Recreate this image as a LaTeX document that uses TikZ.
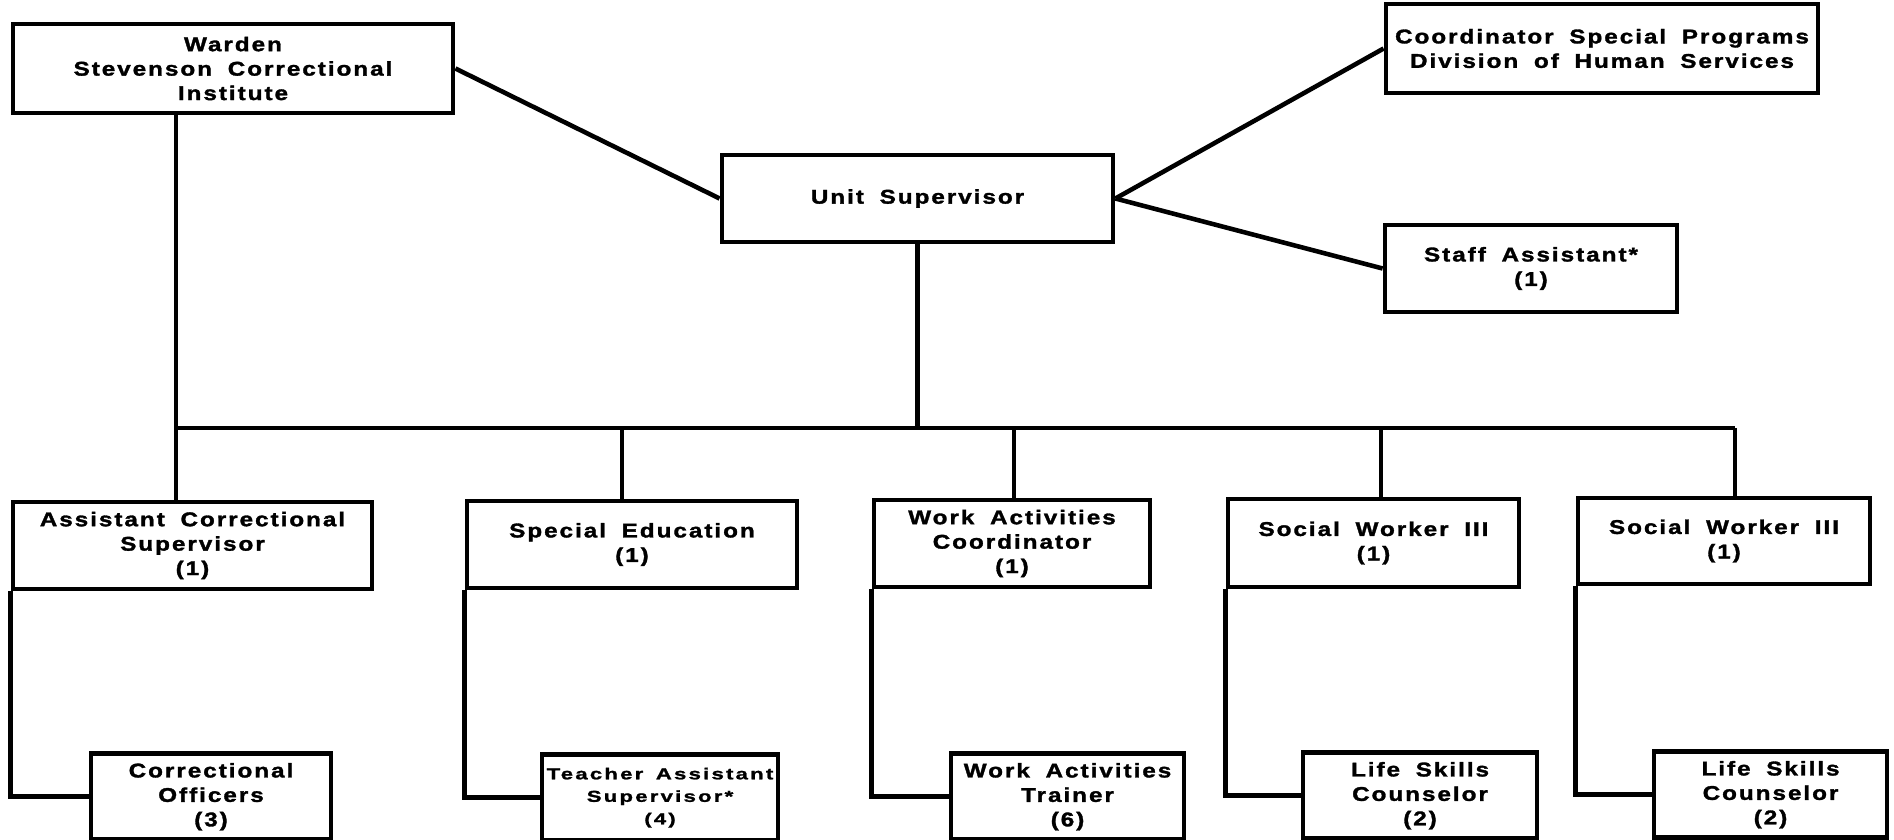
\documentclass[tikz,border=0pt]{standalone}
\usepackage{fontspec}
\usepackage{tikz}
\usetikzlibrary{positioning}
\newfontfamily\orgfont{Liberation Sans}[FakeStretch=1.22, LetterSpace=10, WordSpace=1.8, FakeBold=1.6]
\newfontfamily\orgfontwide{Liberation Sans}[FakeStretch=1.4, LetterSpace=14, WordSpace=1.5, FakeBold=1.4]

\begin{document}
\begin{tikzpicture}[
  x=0.01cm, y=0.01cm,
  line width=1.3pt,
  post/.style={rectangle, draw, align=center, inner sep=0pt, font=\orgfont\bfseries\fontsize{5.65}{6.95}\selectfont},
  subpost/.style={post, minimum height=0.86cm},
]
\useasboundingbox (0,0) rectangle (1894,-839);

\node[post, minimum width=4.40cm, minimum height=0.89cm] (warden) at (233,-68.5) {Warden\\Stevenson Correctional\\Institute};
\node[post, minimum width=3.91cm, minimum height=0.87cm] (unit) at (917.5,-198.5) {Unit Supervisor};
\node[post, minimum width=4.32cm, minimum height=0.89cm] (coord) at (1602,-48.5) {Coordinator Special Programs\\Division of Human Services};
\node[post, minimum width=2.92cm, minimum height=0.87cm] (staff) at (1531,-268.5) {Staff Assistant*\\(1)};

\node[post, minimum width=3.59cm, minimum height=0.87cm] (acs) at (192.5,-545.5) {Assistant Correctional\\Supervisor\\(1)};
\node[post, minimum width=3.30cm, minimum height=0.87cm] (se) at (632,-544.5) {Special Education\\(1)};
\node[post, minimum width=2.76cm, minimum height=0.87cm] (wac) at (1012,-543.5) {Work Activities\\Coordinator\\(1)};
\node[post, minimum width=2.91cm, minimum height=0.88cm] (swa) at (1373.5,-543) {Social Worker III\\(1)};
\node[post, minimum width=2.92cm, minimum height=0.86cm] (swb) at (1724,-541) {Social Worker III\\(1)};

\node[subpost, minimum width=2.40cm, below right=1.60cm and 0.78cm of acs.south west] (co) {Correctional\\Officers\\(3)};
\node[subpost, minimum width=2.36cm, below right=1.62cm and 0.75cm of se.south west,
  font=\orgfontwide\bfseries\fontsize{4.5}{6.4}\selectfont] (tas) {Teacher Assistant\\Supervisor*\\(4)};
\node[subpost, minimum width=2.33cm, below right=1.62cm and 0.77cm of wac.south west] (wat) {Work Activities\\Trainer\\(6)};
\node[subpost, minimum width=2.34cm, below right=1.61cm and 0.75cm of swa.south west] (lsa) {Life Skills\\Counselor\\(2)};
\node[subpost, minimum width=2.33cm, below right=1.63cm and 0.76cm of swb.south west] (lsb) {Life Skills\\Counselor\\(2)};

\coordinate (bus-acs) at (176,-428);
\coordinate (bus-se) at (622,-428);
\coordinate (bus-wac) at (1014,-428);
\coordinate (bus-swa) at (1381,-428);
\coordinate (bus-swb) at (1735,-428);

\draw (warden.east) -- (unit.west);
\draw (unit.east) -- (coord.west);
\draw (unit.east) -- (staff.west);
\draw (unit.south) -- (unit.south |- bus-acs);
\draw (bus-acs) -- (bus-swb);
\draw (warden.south -| bus-acs) -- (acs.north -| bus-acs);
\foreach \n in {se, wac, swa, swb}
  \draw (bus-\n) -- (\n.north -| bus-\n);
\foreach \top/\sub in {acs/co, se/tas, wac/wat, swa/lsa, swb/lsb}
  \draw (\top.south west) |- (\sub.west);
\end{tikzpicture}
\end{document}
